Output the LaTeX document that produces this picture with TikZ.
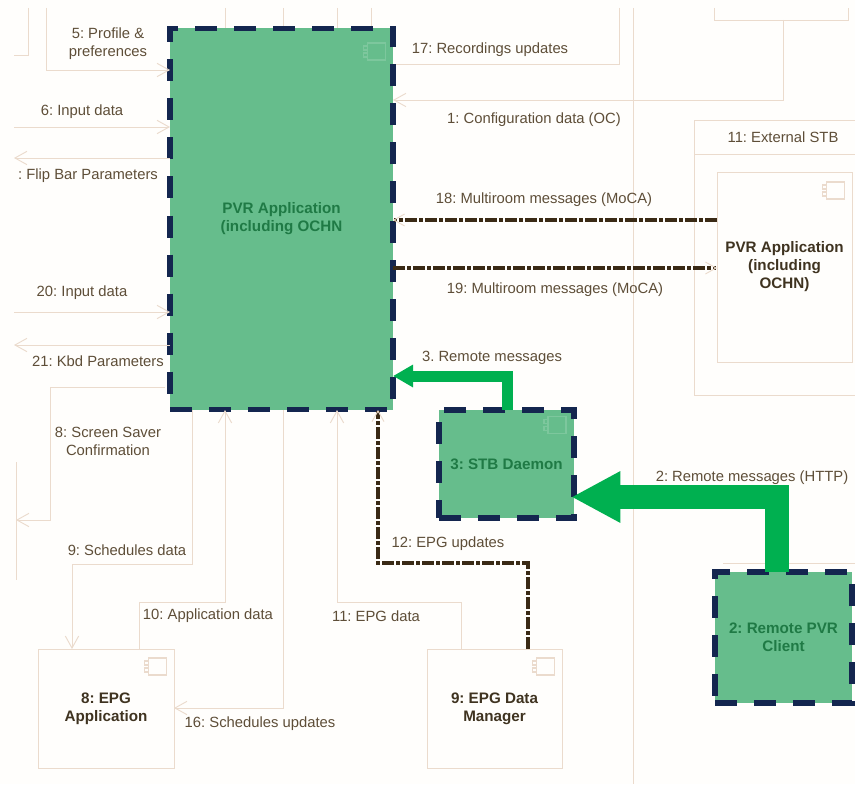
\documentclass[tikz,border=0pt]{standalone}
\usepackage{fontspec}
\setmainfont{Liberation Sans}
\frenchspacing
\usetikzlibrary{arrows.meta,calc}
\pgfdeclarelayer{bglines}
\pgfsetlayers{bglines,main}
\definecolor{paper}{HTML}{FFFEFC}
\definecolor{linetan}{HTML}{EBDBCD}
\definecolor{labeltxt}{HTML}{5E4E38}
\definecolor{boxtxt}{HTML}{3F3320}
\definecolor{hlfill}{HTML}{66BD8C}
\definecolor{hltxt}{HTML}{1F7A45}
\definecolor{hlborder}{HTML}{14264F}
\definecolor{hlarrow}{HTML}{00B050}
\definecolor{dashdark}{HTML}{3A2A15}
\def\px{0.75pt}
\tikzset{
  x=0.75pt,y=-0.75pt,
  lbl/.style={font=\fontsize{11.1}{13.5}\selectfont,text=labeltxt,align=center,inner sep=0pt},
  plainbox/.style={draw=linetan,line width=0.7pt,fill=paper,inner sep=0pt,outer sep=0pt,align=center,
    font=\bfseries\fontsize{11.4}{13.5}\selectfont,text=boxtxt},
  hlbox/.style={draw=hlborder,fill=hlfill,line width=4.2pt,dash pattern=on 16.5pt off 12.75pt,
    inner sep=0pt,outer sep=0pt,align=center,font=\bfseries\fontsize{11.4}{13.5}\selectfont,text=hltxt},
  flow/.style={draw=linetan,line width=0.7pt},
  flowarrow/.style={flow,-{Straight Barb[length=9pt,width=10pt,line width=0.7pt]}},
  dashflow/.style={draw=dashdark,line width=2.4pt,dash pattern=on 9pt off 1.8pt on 2.4pt off 1.8pt,
    -{Straight Barb[length=8pt,width=9pt,line width=0.7pt,color=linetan]}},
  bigarrow/.style={draw=hlarrow},
  icon/.pic={
    \draw[#1,line width=0.8pt] (-7,-8.5) rectangle (11,8.5);
    \draw[#1,line width=0.8pt] (-7,-5.5) -- (-11,-5.5) -- (-11,-1.5) -- (-7,-1.5) (-7,1.5) -- (-11,1.5) -- (-11,5.5) -- (-7,5.5);
  }
}
\begin{document}
\begin{tikzpicture}
\useasboundingbox (0,0) rectangle (855,784);
\begin{pgfonlayer}{bglines}
\fill[paper] (0,0) rectangle (855,784);
\end{pgfonlayer}

% free ends
\coordinate (lifeTop) at (633,8);
\coordinate (lifeBot) at (633,784);
\coordinate (s5) at (46,8);
\coordinate (s6) at (14,127);
\coordinate (e7) at (14,158);
\coordinate (s20) at (14,312);
\coordinate (e21) at (14,345);
\coordinate (s17) at (619,8);
\coordinate (t1) at (225,8);
\coordinate (t2) at (283,8);
\coordinate (t3) at (337,8);
\coordinate (t4) at (371,8);
\coordinate (barTop) at (16,462);
\coordinate (barBot) at (16,580);

% nodes
\node[hlbox,minimum width=223*\px,minimum height=381*\px] (main) at (281.5,219) {PVR Application\\(including OCHN};
\node[hlbox,minimum width=135*\px,minimum height=108*\px] (stb) at (506.5,464) {3: STB Daemon};
\node[hlbox,minimum width=137*\px,minimum height=131*\px] (remote) at (783.5,637.5) {2: Remote PVR\\Client};
\node[plainbox,minimum width=136*\px,minimum height=119*\px] (epgapp) at (106,708.5) {8: EPG\\Application};
\node[plainbox,minimum width=135*\px,minimum height=119*\px] (epgmgr) at (494.5,708.5) {9: EPG Data\\Manager};
\node[plainbox,minimum width=135*\px,minimum height=190*\px] (extpvr) at (784.5,267) {PVR Application\\(including\\OCHN)};

% external STB frame and the cropped boxes
\begin{pgfonlayer}{bglines}
\draw[flow] (lifeTop) -- (lifeBot);
\draw[flow] (855,120) -| (694,395) -- (855,395);
\draw[flow] (694,154) -- (855,154);
\draw[flow] (714,8) |- (848,20) -- (848,8);
\draw[flow] (28,8) |- (14,55);
\draw[flow] (723,563) -- (855,563);
\draw[flow] (barTop) -- (barBot);
\draw[flow] (t1) -- (t1 |- main.north);
\draw[flow] (t2) -- (t2 |- main.north);
\draw[flow] (t3) -- (t3 |- main.north);
\draw[flow] (t4) -- (t4 |- main.north);
\draw[flow] (s17) |- (main.east |- 0,64);
\end{pgfonlayer}

% connectors
\draw[flowarrow] (s5) |- (main.west |- 0,70);
\draw[flowarrow] (s6) -- (main.west |- s6);
\draw[flowarrow] (main.west |- e7) -- (e7);
\draw[flowarrow] (s20) -- (main.west |- s20);
\draw[flowarrow] (main.west |- e21) -- (e21);
\draw[flowarrow] (165,387) -| (50,520) -- (16,520);
\draw[flowarrow] (783,20) |- (main.east |- 0,100);
\draw[flowarrow] (192,410) |- (72,564) -- (72,649);
\draw[flowarrow] (139,649) |- (225,602) -- (225,410);
\draw[flowarrow] (283,410) |- (epgapp.east |- 0,708);
\draw[flowarrow] (461,649) |- (337,602) -- (337,410);
\draw[dashflow] (extpvr.west |- 0,220) -- (main.east |- 0,220);
\draw[dashflow] (main.east |- 0,268) -- (extpvr.west |- 0,268);
\draw[dashflow] (528,649) |- (378,563) -- (378,410);

% highlighted messages
\draw[bigarrow,line width=8.25pt,-{Triangle[length=15pt,width=16pt]}] (507,410) |- (main.east |- 0,376);
\draw[bigarrow,line width=18pt,-{Triangle[length=36.75pt,width=36pt]},shorten >=-2pt] (777,572) |- (stb.east |- 0,497);

% icons
\path (374.5,51.5) pic {icon={draw=hlfill!85!white}};
\path (555,425) pic {icon={draw=hlfill!85!white}};
\path (833.5,190.5) pic {icon={draw=linetan}};
\path (155.5,666.5) pic {icon={draw=linetan}};
\path (543.5,666.5) pic {icon={draw=linetan}};

% labels
\node[lbl] (l5) at (108,44) {5: Profile \&\\preferences};
\node[lbl] (l6) at (82,112) {6: Input data};
\node[lbl] (l7) at (88,176) {: Flip Bar Parameters};
\node[lbl] (l20) at (82,293) {20: Input data};
\node[lbl] (l21) at (98,361) {21: Kbd Parameters};
\node[lbl] (l17) at (490,50) {17: Recordings updates};
\node[lbl] (l1) at (534,120) {1: Configuration data (OC)};
\node[lbl] (lext) at (783,137) {11: External STB};
\node[lbl] (l18) at (544,200) {18: Multiroom messages (MoCA)};
\node[lbl] (l19) at (555,290) {19: Multiroom messages (MoCA)};
\node[lbl] (l3) at (492,358) {3. Remote messages};
\node[lbl] (l8) at (108,441) {8: Screen Saver\\Confirmation};
\node[lbl] (l9) at (127,550) {9: Schedules data};
\node[lbl] (l10) at (208,616) {10: Application data};
\node[lbl] (l11) at (376,616) {11: EPG data};
\node[lbl] (l16) at (260,724) {16: Schedules updates};
\node[lbl] (l12) at (448,544) {12: EPG updates};
\node[lbl] (l2) at (752,478) {2: Remote messages (HTTP)};
\end{tikzpicture}
\end{document}
